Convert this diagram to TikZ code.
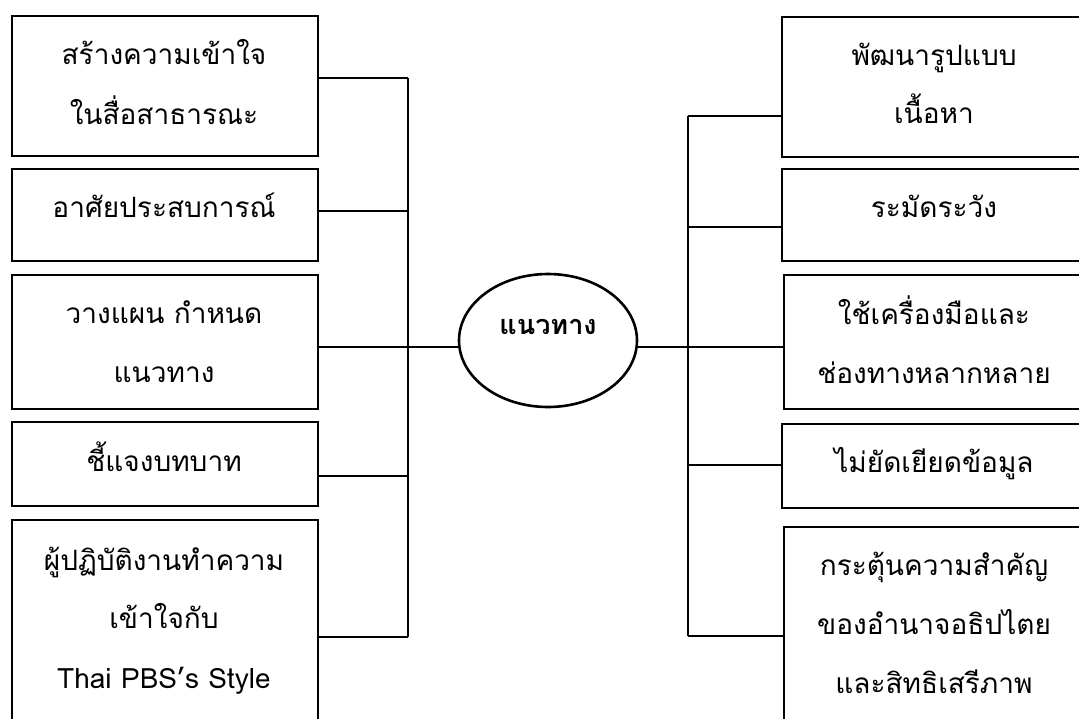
\documentclass[tikz,border=0pt]{standalone}
\usepackage{fontspec}
\usetikzlibrary{shapes.geometric}
\newfontfamily\thaifont[Script=Thai]{Loma}
\begin{document}
\begin{tikzpicture}[x=1pt,y=-1pt,
  box/.style={draw,line width=1.6pt,rectangle,inner sep=0pt,anchor=north west},
  txt/.style={anchor=base,inner sep=0pt,font=\thaifont\fontsize{28}{32}\selectfont},
  conn/.style={line width=1.4pt},
  hub/.style={draw,ellipse,line width=2.6pt,inner sep=0pt,minimum width=178pt,minimum height=133pt}]
\useasboundingbox (0,0) rectangle (1079,718);
\clip (0,0) rectangle (1079,718);
% left boxes
\node[box,minimum width=306pt,minimum height=140pt] (l1) at (11,15) {};
\node[box,minimum width=306pt,minimum height=92pt] (l2) at (11,168) {};
\node[box,minimum width=306pt,minimum height=134pt] (l3) at (11,274) {};
\node[box,minimum width=306pt,minimum height=84pt] (l4) at (11,421) {};
\node[box,minimum width=306pt,minimum height=230pt] (l5) at (11,519) {};
% right boxes
\node[box,minimum width=330pt,minimum height=140pt] (r1) at (781,16) {};
\node[box,minimum width=330pt,minimum height=92pt] (r2) at (781,168) {};
\node[box,minimum width=330pt,minimum height=134pt] (r3) at (783,274) {};
\node[box,minimum width=330pt,minimum height=84pt] (r4) at (781,423) {};
\node[box,minimum width=330pt,minimum height=230pt] (r5) at (783,526) {};
% hub
\node[hub] (hub) at (548,340.5) {};
\node[txt,font=\thaifont\bfseries\fontsize{27}{30}\selectfont] (hubt) at (548,334) {แนวทาง};
% texts left
\node[txt] (l1a) at (164,64) {สร้างความเข้าใจ};
\node[txt] (l1b) at (164,124) {ในสื่อสาธารณะ};
\node[txt] (l2a) at (164,217) {อาศัยประสบการณ์};
\node[txt] (l3a) at (164,323) {วางแผน กำหนด};
\node[txt] (l3b) at (164,382) {แนวทาง};
\node[txt] (l4a) at (164,471) {ชี้แจงบทบาท};
\node[txt] (l5a) at (164,570) {ผู้ปฏิบัติงานทำความ};
\node[txt] (l5b) at (164,628) {เข้าใจกับ};
\node[txt] (l5c) at (164,688) {Thai PBS’s Style};
% texts right
\node[txt] (r1a) at (934,65) {พัฒนารูปแบบ};
\node[txt] (r1b) at (934,123) {เนื้อหา};
\node[txt] (r2a) at (934,217) {ระมัดระวัง};
\node[txt] (r3a) at (934,324) {ใช้เครื่องมือและ};
\node[txt] (r3b) at (934,383) {ช่องทางหลากหลาย};
\node[txt] (r4a) at (934,472) {ไม่ยัดเยียดข้อมูล};
\node[txt] (r5a) at (934,575) {กระตุ้นความสำคัญ};
\node[txt] (r5b) at (934,634) {ของอำนาจอธิปไตย};
\node[txt] (r5c) at (934,693) {และสิทธิเสรีภาพ};
% left bus
\coordinate (la) at (408,78);
\coordinate (lb) at (408,211);
\coordinate (lc) at (408,347);
\coordinate (ld) at (408,476);
\coordinate (le) at (408,637);
\draw[conn] (la) -- (le);
\draw[conn] (l1.east |- la) -- (la);
\draw[conn] (l2.east |- lb) -- (lb);
\draw[conn] (l3.east |- lc) -- (hub.west |- lc);
\draw[conn] (l4.east |- ld) -- (ld);
\draw[conn] (l5.east |- le) -- (le);
% right bus
\coordinate (ra) at (688,116);
\coordinate (rb) at (688,227);
\coordinate (rc) at (688,347);
\coordinate (rd) at (688,465);
\coordinate (re) at (688,636);
\draw[conn] (ra) -- (re);
\draw[conn] (ra) -- (r1.west |- ra);
\draw[conn] (rb) -- (r2.west |- rb);
\draw[conn] (hub.east |- rc) -- (r3.west |- rc);
\draw[conn] (rd) -- (r4.west |- rd);
\draw[conn] (re) -- (r5.west |- re);
\end{tikzpicture}
\end{document}
